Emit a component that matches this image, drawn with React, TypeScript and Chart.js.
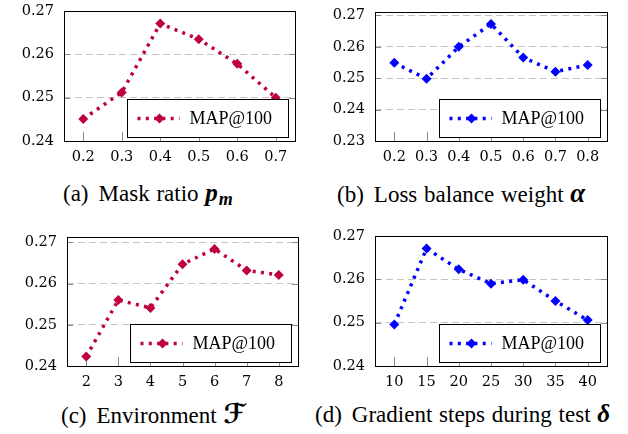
import React, { useEffect, useRef } from "react";
import { Chart, registerables } from "chart.js";

Chart.register(...registerables);

const PURPLE = "#bf0040";
const BLUE = "#0000ff";
const SERIES_LABEL = "MAP@100";

const maskRatios = [0.2, 0.3, 0.4, 0.5, 0.6, 0.7];
const maskMap = [0.2451, 0.2512, 0.2671, 0.2635, 0.2578, 0.25];

const alphas = [0.2, 0.3, 0.4, 0.5, 0.6, 0.7, 0.8];
const alphaMap = [0.2549, 0.2498, 0.26, 0.2673, 0.2566, 0.2521, 0.2542];

const environments = [2, 3, 4, 5, 6, 7, 8];
const envMap = [0.2423, 0.256, 0.2541, 0.2647, 0.2684, 0.2632, 0.2621];

const gradSteps = [10, 15, 20, 25, 30, 35, 40];
const stepMap = [0.2496, 0.2671, 0.2623, 0.259, 0.2599, 0.255, 0.2506];

const yTicks4 = [0.24, 0.25, 0.26, 0.27];
const yTicks5 = [0.23, 0.24, 0.25, 0.26, 0.27];

const TICK_FONT = '"DejaVu Serif"';

type PanelProps = {
  xs: number[];
  ys: number[];
  color: string;
  xMin: number;
  xMax: number;
  xDecimals: number;
  yTicks: number[];
  yMin: number;
  yMax: number;
  left: number;
  top: number;
  width: number;
  height: number;
  axisW: number;
  axisH: number;
  padTop: number;
  padRight: number;
};

const framePlugin = {
  id: "frameTicks",
  beforeDatasetsDraw(chart: any) {
    const { ctx, chartArea } = chart;
    const xs = chart.scales.x;
    const ys = chart.scales.y;
    ctx.save();
    ctx.lineWidth = 1;
    ctx.strokeStyle = "#8a8a8a";
    ctx.beginPath();
    ys.ticks.forEach((t: any) => {
      const y = Math.round(ys.getPixelForValue(t.value)) + 0.5;
      ctx.moveTo(chartArea.left, y);
      ctx.lineTo(chartArea.left + 6, y);
      ctx.moveTo(chartArea.right - 6, y);
      ctx.lineTo(chartArea.right, y);
    });
    xs.ticks.forEach((t: any) => {
      const x = Math.round(xs.getPixelForValue(t.value)) + 0.5;
      ctx.moveTo(x, chartArea.bottom);
      ctx.lineTo(x, chartArea.bottom - 9);
    });
    ctx.stroke();
    ctx.strokeStyle = "#000";
    ctx.strokeRect(
      Math.round(chartArea.left) + 0.5,
      Math.round(chartArea.top) + 0.5,
      Math.round(chartArea.right - chartArea.left),
      Math.round(chartArea.bottom - chartArea.top)
    );
    ctx.restore();
  },
};

const legendPlugin = {
  id: "boxLegend",
  afterDraw(chart: any) {
    const { ctx, chartArea } = chart;
    const ds = chart.data.datasets[0];
    const w = 161;
    const h = 38;
    const bx = Math.round(chartArea.right - 7 - w) + 0.5;
    const by = Math.round(chartArea.bottom - 4.5 - h) + 0.5;
    ctx.save();
    ctx.fillStyle = "#fff";
    ctx.fillRect(bx, by, w, h);
    ctx.strokeStyle = "#000";
    ctx.lineWidth = 1;
    ctx.strokeRect(bx, by, w, h);
    const cy = by + h / 2;
    ctx.strokeStyle = ds.borderColor;
    ctx.lineWidth = 3.5;
    ctx.setLineDash([3, 5.3]);
    ctx.beginPath();
    ctx.moveTo(bx + 10, cy);
    ctx.lineTo(bx + 52, cy);
    ctx.stroke();
    ctx.setLineDash([]);
    ctx.fillStyle = ds.borderColor;
    const r = 5;
    const mx = bx + 32;
    ctx.beginPath();
    ctx.moveTo(mx, cy - r);
    ctx.lineTo(mx + r, cy);
    ctx.lineTo(mx, cy + r);
    ctx.lineTo(mx - r, cy);
    ctx.closePath();
    ctx.fill();
    ctx.fillStyle = "#000";
    ctx.font = '18px "Liberation Serif"';
    ctx.textBaseline = "middle";
    ctx.textAlign = "left";
    ctx.fillText(ds.label, bx + 62, cy + 1);
    ctx.restore();
  },
};

function Panel(p: PanelProps) {
  const ref = useRef<HTMLCanvasElement | null>(null);
  useEffect(() => {
    if (!ref.current) return;
    const chart = new Chart(ref.current, {
      type: "line",
      data: {
        datasets: [
          {
            label: SERIES_LABEL,
            data: p.xs.map((x, i) => ({ x, y: p.ys[i] })),
            borderColor: p.color,
            backgroundColor: p.color,
            borderWidth: 3.5,
            borderDash: [3, 5.3],
            pointStyle: "rectRot",
            pointRadius: 5,
            pointBorderWidth: 0,
            pointBackgroundColor: p.color,
            tension: 0,
          },
        ],
      },
      options: {
        animation: false,
        responsive: false,
        maintainAspectRatio: false,
        layout: { padding: { top: p.padTop, right: p.padRight, left: 0, bottom: 0 } },
        plugins: { legend: { display: false }, tooltip: { enabled: false } },
        scales: {
          x: {
            type: "linear",
            min: p.xMin,
            max: p.xMax,
            afterBuildTicks: (s: any) => {
              s.ticks = p.xs.map((v) => ({ value: v }));
            },
            afterFit: (s: any) => {
              s.height = p.axisH;
              s.paddingLeft = 0;
              s.paddingRight = 0;
              s.paddingTop = 0;
              s.paddingBottom = 0;
            },
            grid: { display: false, drawTicks: false },
            border: { display: false },
            ticks: {
              padding: 8,
              color: "#000",
              maxRotation: 0,
              autoSkip: false,
              font: { family: TICK_FONT, size: 14.5 },
              callback: (v: any) => Number(v).toFixed(p.xDecimals),
            },
          },
          y: {
            type: "linear",
            min: p.yMin,
            max: p.yMax,
            afterBuildTicks: (s: any) => {
              s.ticks = p.yTicks.map((v) => ({ value: v }));
            },
            afterFit: (s: any) => {
              s.width = p.axisW;
              s.paddingLeft = 0;
              s.paddingRight = 0;
              s.paddingTop = 0;
              s.paddingBottom = 0;
            },
            grid: { display: true, drawTicks: false, color: "#c4c4c4", lineWidth: 1 },
            border: { display: false, dash: [7, 4] },
            ticks: {
              padding: 10,
              color: "#000",
              autoSkip: false,
              font: { family: TICK_FONT, size: 14.5 },
              callback: (v: any) => Number(v).toFixed(2),
            },
          },
        },
      } as any,
      plugins: [framePlugin, legendPlugin],
    });
    return () => chart.destroy();
  }, []);
  return (
    <canvas
      ref={ref}
      width={p.width}
      height={p.height}
      style={{ position: "absolute", left: p.left, top: p.top, width: p.width, height: p.height }}
    />
  );
}

const capStyle: React.CSSProperties = {
  position: "absolute",
  font: '23px "Liberation Serif"',
  lineHeight: "24px",
  wordSpacing: "1px",
  whiteSpace: "nowrap",
  color: "#000",
};
const mathStyle: React.CSSProperties = { fontWeight: "bold", fontStyle: "italic", fontSize: 25 };
const subStyle: React.CSSProperties = {
  fontWeight: "bold",
  fontStyle: "italic",
  fontSize: 18,
  position: "relative",
  top: 4,
  marginLeft: 1,
};

export default function App() {
  return (
    <div
      style={{
        position: "fixed",
        left: 0,
        top: 0,
        width: 628,
        height: 434,
        background: "#fff",
        overflow: "hidden",
      }}
    >
      <Panel
        xs={maskRatios}
        ys={maskMap}
        color={PURPLE}
        xMin={0.15}
        xMax={0.75}
        xDecimals={1}
        yTicks={yTicks4}
        yMin={0.24}
        yMax={0.27}
        left={0}
        top={0}
        width={310}
        height={170}
        axisW={64}
        axisH={29}
        padTop={11}
        padRight={15}
      />
      <Panel
        xs={alphas}
        ys={alphaMap}
        color={BLUE}
        xMin={0.14}
        xMax={0.86}
        xDecimals={1}
        yTicks={yTicks5}
        yMin={0.23}
        yMax={0.2711}
        left={314}
        top={0}
        width={314}
        height={170}
        axisW={61}
        axisH={29}
        padTop={12}
        padRight={21}
      />
      <Panel
        xs={environments}
        ys={envMap}
        color={PURPLE}
        xMin={1.4}
        xMax={8.6}
        xDecimals={0}
        yTicks={yTicks4}
        yMin={0.24}
        yMax={0.2713}
        left={0}
        top={215}
        width={310}
        height={180}
        axisW={67}
        axisH={29}
        padTop={22}
        padRight={12}
      />
      <Panel
        xs={gradSteps}
        ys={stepMap}
        color={BLUE}
        xMin={7}
        xMax={43}
        xDecimals={0}
        yTicks={yTicks4}
        yMin={0.24}
        yMax={0.27}
        left={314}
        top={215}
        width={314}
        height={180}
        axisW={61}
        axisH={29}
        padTop={21}
        padRight={21}
      />
      <div style={{ ...capStyle, left: 63, top: 181 }}>
        {"(a)"}
        <span style={{ marginLeft: 10 }}>{"Mask ratio "}</span>
        <span style={mathStyle}>p</span>
        <span style={subStyle}>m</span>
      </div>
      <div style={{ ...capStyle, left: 337, top: 181 }}>
        {"(b)"}
        <span style={{ marginLeft: 10 }}>{"Loss balance weight "}</span>
        <span style={{ ...mathStyle, fontSize: 27 }}>α</span>
      </div>
      <div style={{ ...capStyle, left: 61, top: 402 }}>
        {"(c)"}
        <span style={{ marginLeft: 10 }}>{"Environment "}</span>
        <span style={{ ...mathStyle, fontSize: 27, fontFamily: '"DejaVu Serif", "DejaVu Sans", serif' }}>ℱ</span>
      </div>
      <div style={{ ...capStyle, left: 315, top: 402 }}>
        {"(d)"}
        <span style={{ marginLeft: 10 }}>{"Gradient steps during test "}</span>
        <span style={mathStyle}>δ</span>
      </div>
    </div>
  );
}
